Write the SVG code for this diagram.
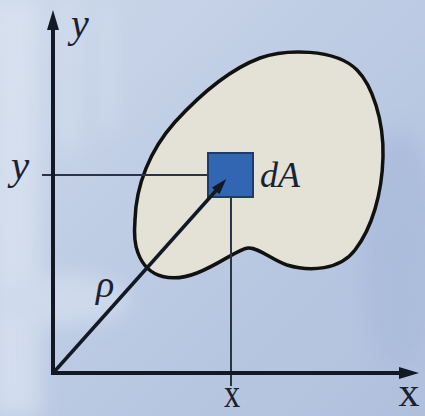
<svg xmlns="http://www.w3.org/2000/svg" width="425" height="416" viewBox="0 0 425 416">
  <defs>
    <linearGradient id="bg" x1="0" y1="0" x2="1" y2="1">
      <stop offset="0" stop-color="#ccd8ea"/>
      <stop offset="0.5" stop-color="#bccae3"/>
      <stop offset="1" stop-color="#b0c0dc"/>
    </linearGradient>
    <filter id="soft" x="-20%" y="-20%" width="140%" height="140%">
      <feGaussianBlur stdDeviation="10"/>
    </filter>
    <marker id="axisHead" viewBox="0 0 20 12" markerWidth="20" markerHeight="12" refX="10" refY="6" orient="auto" markerUnits="userSpaceOnUse">
      <path d="M0,0 L20,6 L0,12 Z" fill="#121826"/>
    </marker>
    <marker id="rhoHead" viewBox="0 0 16 10" markerWidth="16" markerHeight="10" refX="8" refY="5" orient="auto" markerUnits="userSpaceOnUse">
      <path d="M0,0 L16,5 L0,10 Z" fill="#121826"/>
    </marker>
    <style>
      .lbl { font-family: "Liberation Serif", "DejaVu Serif", serif; fill: #1a2130; }
      .it { font-style: italic; }
      .axis { stroke: #121826; stroke-width: 4; fill: none; }
      .guide { stroke: #2b3444; stroke-width: 2; fill: none; }
    </style>
  </defs>

  <!-- background -->
  <rect x="0" y="0" width="425" height="416" fill="url(#bg)"/>
  <g filter="url(#soft)" opacity="0.7">
    <rect x="-10" y="0" width="50" height="416" fill="#dbe4f1"/>
    <rect x="60" y="0" width="18" height="150" fill="#d6e0ef"/>
    <rect x="100" y="10" width="14" height="120" fill="#d3ddee"/>
    <ellipse cx="60" cy="300" rx="70" ry="25" fill="#d6e0ef"/>
    <ellipse cx="400" cy="250" rx="40" ry="120" fill="#a9badb"/>
  </g>

  <!-- region -->
  <g id="region">
    <path d="M135,220 C136,185 150,150 175,122 C197,98 228,70 260,58 C285,49 335,48 357,70 C372,85 384,120 383,157 C382,194 372,228 355,250 C340,270 310,272 287,265 C272,260 258,247 248,248 C238,249 220,264 197,273 C174,282 148,280 138,253 C134,243 134,232 135,220 Z" fill="#e4e1d6" stroke="#111" stroke-width="3.5"/>
  </g>

  <!-- connectors -->
  <g id="connectors">
    <line class="guide" x1="42" y1="175" x2="231" y2="175"/>
    <line class="guide" x1="231" y1="175" x2="231" y2="386"/>
    <line class="axis" x1="53" y1="375" x2="53" y2="20" marker-end="url(#axisHead)"/>
    <line class="axis" x1="51" y1="373" x2="409" y2="373" marker-end="url(#axisHead)"/>
  </g>

  <g id="dA">
    <rect x="208" y="153" width="45" height="44" fill="#3366b2" stroke="#1e3a6e" stroke-width="2"/>
    <text class="lbl it" x="260" y="187" font-size="36">dA</text>
  </g>

  <g id="rho">
    <line x1="54" y1="372" x2="221" y2="185" stroke="#121826" stroke-width="3.5" marker-end="url(#rhoHead)"/>
    <text class="lbl it" x="96" y="297" font-size="38">ρ</text>
  </g>

  <g id="labels">
    <text class="lbl it" x="71" y="37" font-size="40">y</text>
    <text class="lbl it" x="11" y="179" font-size="41">y</text>
    <text class="lbl" x="0" y="0" font-size="36" text-anchor="middle" transform="translate(232,407) scale(0.9,1.2)">x</text>
    <text class="lbl" x="409" y="406" font-size="42" text-anchor="middle">x</text>
  </g>
</svg>
